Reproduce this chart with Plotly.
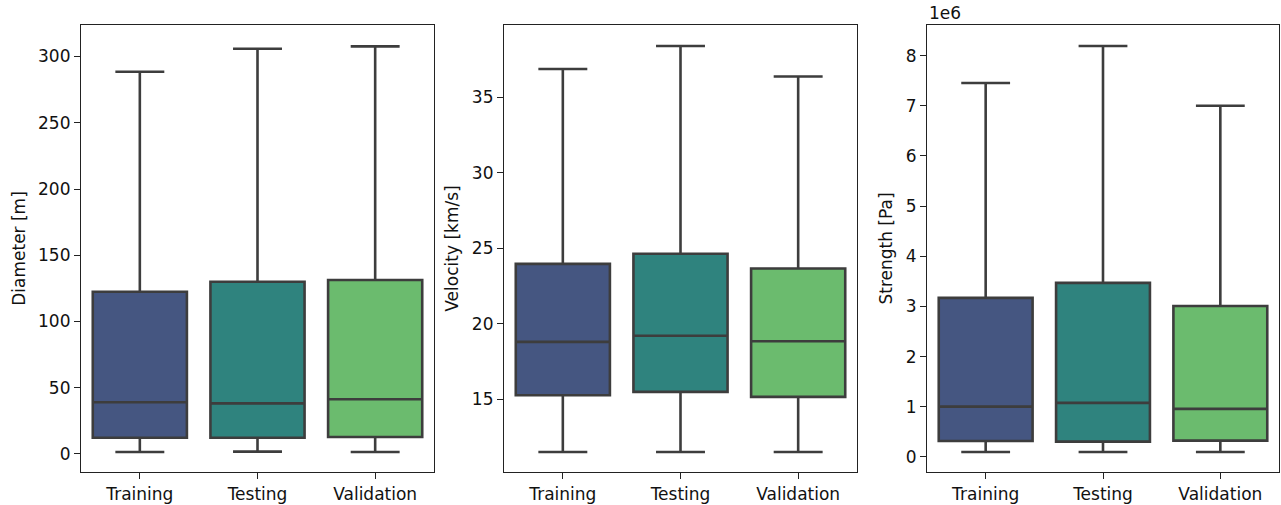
import plotly.graph_objects as go

categories = ["Training", "Testing", "Validation"]
colors = ["#455681", "#2f837e", "#6bbb6e"]

# Diameter [m]
diam_low = [1.5, 1.8, 1.5]
diam_q1 = [12.3, 12.3, 12.8]
diam_med = [39.0, 38.2, 41.3]
diam_q3 = [122.5, 130.0, 131.3]
diam_high = [288.5, 305.9, 307.7]

# Velocity [km/s]
vel_low = [11.49, 11.49, 11.49]
vel_q1 = [15.25, 15.47, 15.14]
vel_med = [18.79, 19.19, 18.83]
vel_q3 = [23.96, 24.63, 23.65]
vel_high = [36.88, 38.41, 36.39]

# Strength [Pa] (in units of 1e6)
str_low = [0.10, 0.10, 0.10]
str_q1 = [0.319, 0.305, 0.325]
str_med = [1.004, 1.077, 0.958]
str_q3 = [3.17, 3.47, 3.01]
str_high = [7.455, 8.19, 7.00]

panels = [
    ("Diameter [m]", diam_low, diam_q1, diam_med, diam_q3, diam_high, [-13.6, 323.8], [0, 50, 100, 150, 200, 250, 300]),
    ("Velocity [km/s]", vel_low, vel_q1, vel_med, vel_q3, vel_high, [10.16, 39.8], [15, 20, 25, 30, 35]),
    ("Strength [Pa]", str_low, str_q1, str_med, str_q3, str_high, [-0.3, 8.61], [0, 1, 2, 3, 4, 5, 6, 7, 8]),
]

W, H = 1281, 505
x_doms_px = [(81, 434), (504, 857), (927, 1279)]
y_top, y_bot = 25, 472

fig = go.Figure()
font = dict(family="DejaVu Sans", size=17, color="#111111")
line_col = "#3d3d3d"

for i, (title, lo, q1, med, q3, hi, yr, tv) in enumerate(panels):
    xa = "x" if i == 0 else f"x{i+1}"
    ya = "y" if i == 0 else f"y{i+1}"
    for j, cat in enumerate(categories):
        fig.add_trace(go.Box(
            x=[cat], lowerfence=[lo[j]], q1=[q1[j]], median=[med[j]], q3=[q3[j]],
            upperfence=[hi[j]], fillcolor=colors[j],
            line=dict(color=line_col, width=2.6), width=0.8, whiskerwidth=0.52,
            boxpoints=False, showlegend=False, xaxis=xa, yaxis=ya,
            hoverinfo="skip",
        ))
    x0, x1 = x_doms_px[i]
    axis_common = dict(showline=True, linecolor="#222222", linewidth=1.2, mirror=True,
                       ticks="outside", ticklen=6, tickcolor="#222222", tickwidth=1.2,
                       showgrid=False, zeroline=False, tickfont=font, automargin=False)
    xkey = "xaxis" if i == 0 else f"xaxis{i+1}"
    ykey = "yaxis" if i == 0 else f"yaxis{i+1}"
    fig.update_layout(**{
        xkey: dict(domain=[x0 / W, x1 / W], anchor=ya, type="category",
                   categoryorder="array", categoryarray=categories,
                   range=[-0.5, 2.5], **axis_common),
        ykey: dict(domain=[1 - y_bot / H, 1 - y_top / H], anchor=xa, range=yr,
                   tickvals=tv, ticktext=[str(v) for v in tv],
                   title=dict(text=title, font=font, standoff=8), **axis_common),
    })

fig.add_annotation(text="1e6", xref="paper", yref="paper", x=927 / W, y=1 - 13 / H,
                   xanchor="left", yanchor="middle", showarrow=False, font=font)

fig.update_layout(width=W, height=H, margin=dict(l=0, r=0, t=0, b=0, autoexpand=False),
                  paper_bgcolor="white", plot_bgcolor="white", font=font)

fig.write_html("out.html", config={"displayModeBar": False},
               post_script="document.body.style.margin='0';document.body.style.overflow='hidden';")
